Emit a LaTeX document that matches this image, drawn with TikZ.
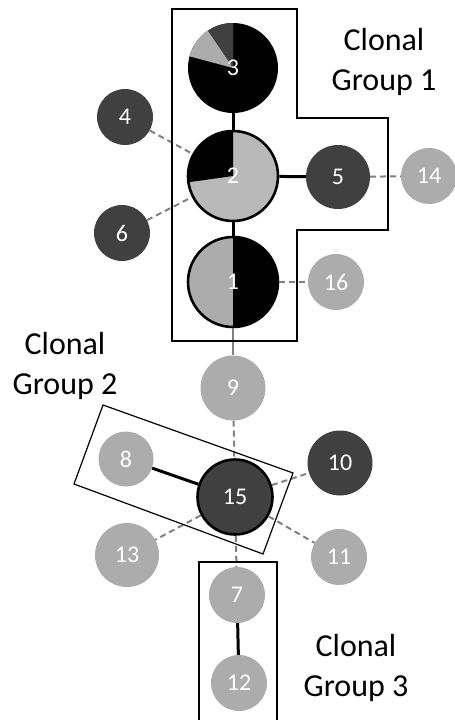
\documentclass[tikz,border=0pt]{standalone}
\usepackage{fontspec}
\setmainfont{Carlito}
\definecolor{dk}{RGB}{64,64,64}
\definecolor{lt}{RGB}{172,172,172}
\definecolor{ltb}{RGB}{185,185,185}
\definecolor{edgegray}{RGB}{128,128,128}
\begin{document}
\begin{tikzpicture}[x=1pt,y=1pt,
  nd/.style={circle,inner sep=0pt,text=white,font=\fontsize{24}{24}\selectfont},
  dknode/.style={nd,fill=dk},
  ltnode/.style={nd,fill=lt},
  bordered/.style={draw=black,line width=2.6pt},
  solidedge/.style={line width=3pt,black},
  dashedge/.style={line width=2pt,edgegray,dash pattern=on 6pt off 4pt},
  grayedge/.style={line width=2pt,edgegray},
  groupbox/.style={draw=black,line width=1.2pt},
  lbl/.style={align=center,font=\fontsize{32}{40}\selectfont,text=black}
]
\useasboundingbox (0,0) rectangle (455,-720);

% pie fills
\fill[black] (233,-68) circle (45pt);
\fill[dk] (233,-68) -- ++(90:45pt) arc[start angle=90,end angle=124,radius=45pt] -- cycle;
\fill[lt] (233,-68) -- ++(124:45pt) arc[start angle=124,end angle=165,radius=45pt] -- cycle;

\fill[ltb] (233,-176) circle (45pt);
\fill[black] (233,-176) -- ++(90:45pt) arc[start angle=90,end angle=188,radius=45pt] -- cycle;

\fill[lt] (233,-282) circle (45pt);
\fill[black] (233,-282) -- ++(-90:45pt) arc[start angle=-90,end angle=90,radius=45pt] -- cycle;

% nodes
\node[nd,minimum size=90pt] (n3) at (233,-68) {3};
\node[nd,bordered,minimum size=90pt] (n2) at (233,-176) {2};
\node[nd,bordered,minimum size=90pt] (n1) at (233,-282) {1};
\node[dknode,minimum size=64pt] (n5) at (338,-177) {5};
\node[ltnode,minimum size=56pt] (n14) at (429,-176) {14};
\node[ltnode,minimum size=56pt] (n16) at (336,-282) {16};
\node[dknode,minimum size=56pt] (n4) at (125,-117) {4};
\node[dknode,minimum size=56pt] (n6) at (122,-233) {6};
\node[ltnode,minimum size=65pt] (n9) at (233,-388) {9};
\node[ltnode,minimum size=55pt] (n8) at (126,-459) {8};
\node[dknode,bordered,minimum size=75pt] (n15) at (235,-497) {15};
\node[dknode,minimum size=65pt] (n10) at (340,-463) {10};
\node[ltnode,minimum size=64pt] (n13) at (127,-555) {13};
\node[ltnode,minimum size=56pt] (n11) at (339,-557) {11};
\node[ltnode,minimum size=56pt] (n7) at (237,-595) {7};
\node[ltnode,minimum size=56pt] (n12) at (239,-683) {12};

% edges
\draw[solidedge] (n3) -- (n2);
\draw[solidedge] (n2) -- (n1);
\draw[solidedge] (n2) -- (n5);
\draw[solidedge] (n8) -- (n15);
\draw[solidedge] (n7) -- (n12);
\draw[grayedge] (n1) -- (n9);
\draw[dashedge] (n4) -- (n2);
\draw[dashedge] (n6) -- (n2);
\draw[dashedge] (n5) -- (n14);
\draw[dashedge] (n1) -- (n16);
\draw[dashedge] (n9) -- (n15);
\draw[dashedge] (n15) -- (n10);
\draw[dashedge] (n15) -- (n13);
\draw[dashedge] (n15) -- (n11);
\draw[dashedge] (n15) -- (n7);

% group boxes
\draw[groupbox] (172,-9) -- (297,-9) -- (297,-118) -- (388,-118) -- (388,-230) -- (297,-230) -- (297,-341) -- (172,-341) -- cycle;
\draw[groupbox] (103,-405) -- (293,-473) -- (263,-554) -- (74,-484) -- cycle;
\draw[groupbox] (199,-725) -- (199,-562) -- (277,-562) -- (277,-725);

% labels
\node[lbl] (g1) at (384,-62) {Clonal\\Group 1};
\node[lbl] (g2) at (65,-366) {Clonal\\Group 2};
\node[lbl] (g3) at (356,-668) {Clonal\\Group 3};
\end{tikzpicture}
\end{document}
